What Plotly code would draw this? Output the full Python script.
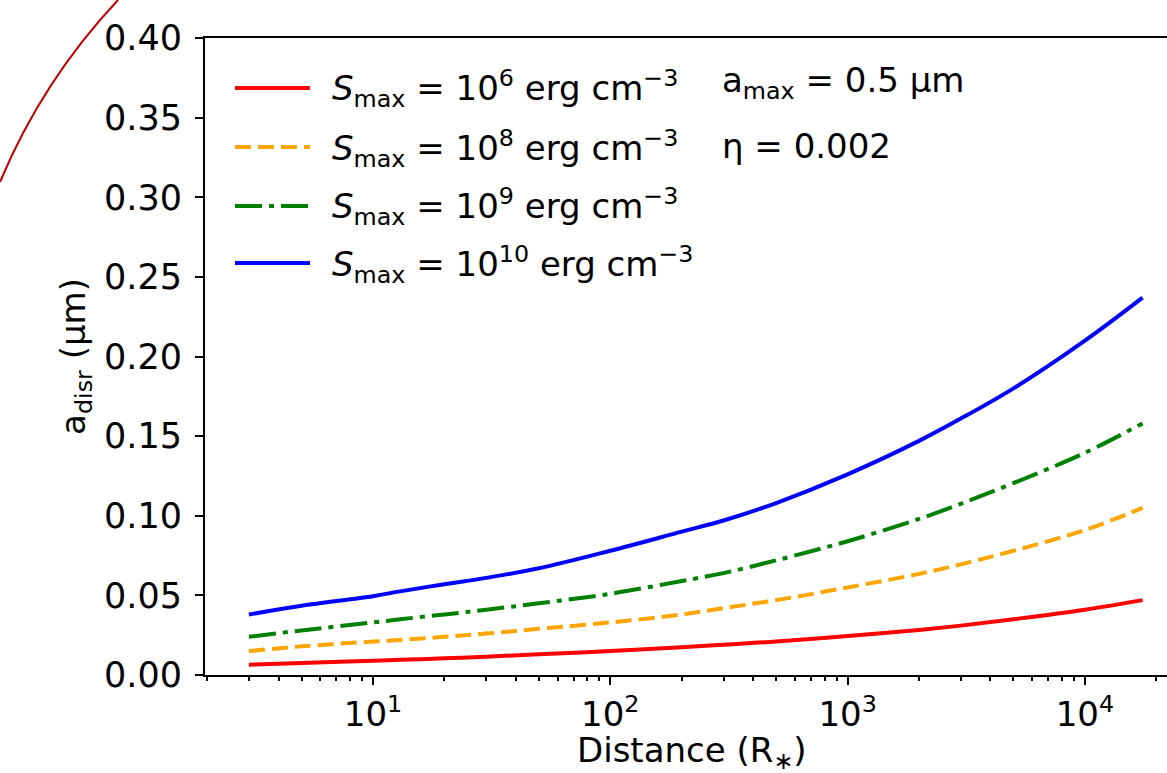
import plotly.graph_objects as go

# ---------------- data ----------------
distance = [3, 5, 10, 13, 20, 30, 50, 100, 200, 300, 500, 1000, 2000, 3000, 5000, 10000, 17500]
a_disr_s6 = [0.0065, 0.0075, 0.009, 0.0095, 0.0105, 0.0115, 0.013, 0.015, 0.0175, 0.019, 0.021, 0.0245, 0.0283, 0.031, 0.035, 0.041, 0.047]
a_disr_s8 = [0.015, 0.018, 0.021, 0.022, 0.024, 0.026, 0.029, 0.033, 0.038, 0.042, 0.047, 0.055, 0.0635, 0.0695, 0.078, 0.091, 0.105]
a_disr_s9 = [0.024, 0.028, 0.033, 0.035, 0.038, 0.041, 0.045, 0.051, 0.059, 0.064, 0.072, 0.084, 0.098, 0.1075, 0.1205, 0.1395, 0.158]
a_disr_s10 = [0.038, 0.0435, 0.0495, 0.0525, 0.057, 0.061, 0.067, 0.078, 0.090, 0.097, 0.108, 0.126, 0.147, 0.161, 0.180, 0.210, 0.237]

s_exponents = [6, 8, 9, 10]
series = [a_disr_s6, a_disr_s8, a_disr_s9, a_disr_s10]
colors = ["#FF0000", "#FFA500", "#008000", "#0000FF"]
dashes = ["solid", "16px,7px", "27px,7px,5px,7px", "solid"]

x_major_vals = [10, 100, 1000, 10000]
x_major_text = ["10<sup>1</sup>", "10<sup>2</sup>", "10<sup>3</sup>", "10<sup>4</sup>"]
x_minor_vals = [m * 10 ** d for d in range(0, 5) for m in range(2, 10)]
y_ticks = [0.0, 0.05, 0.10, 0.15, 0.20, 0.25, 0.30, 0.35, 0.40]
x_title = "Distance (R<sub>∗</sub>)"
y_title = "a<sub>disr</sub> (μm)"

# ---------------- layout geometry ----------------
W, H = 1167, 773
L, R, T, B = 205, 0, 38, 98
pw, ph = W - L - R, H - T - B

def px_x(px):
    return (px - L) / pw

def px_y(py):
    return (H - B - py) / ph

FONT = "DejaVu Sans"
FS = 34
TFS = 35

fig = go.Figure()
for vals, col, dsh in zip(series, colors, dashes):
    fig.add_trace(go.Scatter(
        x=distance, y=vals, mode="lines",
        line=dict(color=col, width=4, dash=dsh, shape="spline", smoothing=1.0),
        showlegend=False, hoverinfo="skip"))

shapes = []
annotations = []

# manual legend
rows = [88, 147, 206, 263]
for e, col, dsh, ry in zip(s_exponents, colors, dashes, rows):
    shapes.append(dict(type="line", xref="paper", yref="paper",
                       x0=px_x(235), x1=px_x(310), y0=px_y(ry), y1=px_y(ry),
                       line=dict(color=col, width=4, dash=dsh)))
    annotations.append(dict(
        xref="paper", yref="paper", x=px_x(330), y=px_y(ry + 1),
        xanchor="left", yanchor="middle", showarrow=False,
        text=f"<i>S</i><sub>max</sub> = 10<sup>{e}</sup> erg cm<sup>−3</sup>",
        font=dict(family=FONT, size=FS, color="black")))

annotations.append(dict(xref="paper", yref="paper", x=px_x(720), y=px_y(82),
                        xanchor="left", yanchor="middle", showarrow=False,
                        text="a<sub>max</sub> = 0.5 μm",
                        font=dict(family=FONT, size=FS, color="black")))
annotations.append(dict(xref="paper", yref="paper", x=px_x(720), y=px_y(146),
                        xanchor="left", yanchor="middle", showarrow=False,
                        text="η = 0.002",
                        font=dict(family=FONT, size=FS, color="black")))

# x axis title as annotation
annotations.append(dict(xref="paper", yref="paper", x=px_x(692), y=px_y(752),
                        xanchor="center", yanchor="middle", showarrow=False,
                        text=x_title,
                        font=dict(family=FONT, size=FS, color="black")))

# dark red arc in the top-left corner
p0 = (px_x(118), px_y(0))
pc = (px_x(42.5), px_y(80.4))
p1 = (px_x(0), px_y(182))
shapes.append(dict(type="path", xref="paper", yref="paper",
                   path=f"M {p0[0]},{p0[1]} Q {pc[0]},{pc[1]} {p1[0]},{p1[1]}",
                   line=dict(color="#C00000", width=2)))

fig.update_layout(
    width=W, height=H,
    margin=dict(l=L, r=R, t=T, b=B, pad=0),
    paper_bgcolor="white", plot_bgcolor="white",
    font=dict(family=FONT, size=FS, color="black"),
    shapes=shapes, annotations=annotations,
    xaxis=dict(type="log", range=[0.292, 4.346],
               tickvals=x_major_vals, ticktext=x_major_text,
               ticks="outside", ticklen=8, tickwidth=2, tickcolor="black",
               minor=dict(tickvals=x_minor_vals, ticks="outside", ticklen=4,
                          tickwidth=1.5, tickcolor="black", showgrid=False),
               showline=True, linecolor="black", linewidth=2, mirror=True,
               showgrid=False, zeroline=False,
               tickfont=dict(family=FONT, size=34)),
    yaxis=dict(range=[0, 0.40], tickvals=y_ticks, tickformat=".2f",
               ticks="outside", ticklen=8, tickwidth=2, tickcolor="black",
               ticklabelstandoff=6,
               showline=True, linecolor="black", linewidth=2, mirror=False,
               showgrid=False, zeroline=False,
               tickfont=dict(family=FONT, size=TFS),
               title=dict(text=y_title, standoff=8,
                          font=dict(family=FONT, size=FS))),
)

fig.write_html("out.html",
               config={"displayModeBar": False},
               post_script="document.body.style.margin='0';document.body.style.overflow='hidden';")
